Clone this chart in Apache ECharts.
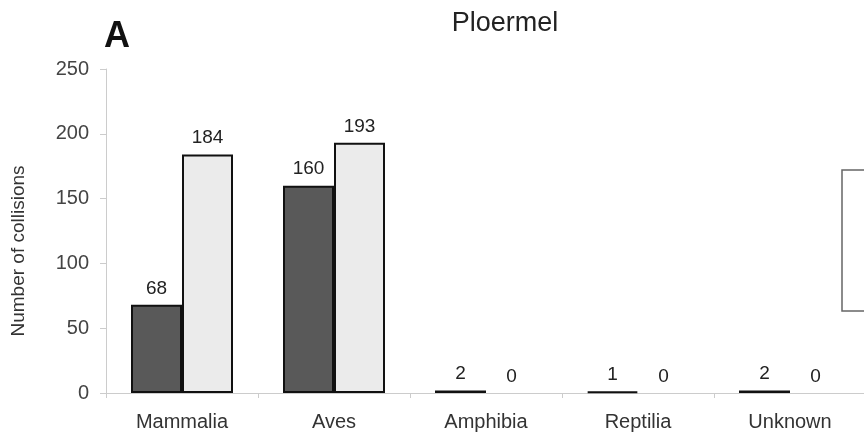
<!DOCTYPE html>
<html><head><meta charset="utf-8">
<script src="https://cdn.jsdelivr.net/npm/echarts@6/dist/echarts.min.js"></script>
<style>html,body{margin:0;padding:0;background:#fff}#c{width:864px;height:437px}</style>
</head><body><div id="c"></div>
<script>
const categories = ['Mammalia', 'Aves', 'Amphibia', 'Reptilia', 'Unknown'];
const seriesDark = [68, 160, 2, 1, 2];
const seriesLight = [184, 193, 0, 0, 0];
const yTicks = { min: 0, max: 250, interval: 50 };
const yAxisTitle = 'Number of collisions';

const font = 'Liberation Sans, Arial, sans-serif';
const chart = echarts.init(document.getElementById('c'), null, { renderer: 'canvas' });
const labelCfg = { show: true, position: 'top', distance: 7, color: '#222', fontSize: 19, fontFamily: font };
const toItems = (arr) => arr.map(v => ({
  value: v,
  itemStyle: v === 0 ? { borderWidth: 0, color: 'rgba(0,0,0,0)' } : {}
}));
chart.setOption({
  animation: false,
  backgroundColor: '#fff',
  title: [
    { text: 'Ploermel', left: 500, top: 5, textAlign: 'center',
      textStyle: { fontSize: 27, fontWeight: 'normal', color: '#222', fontFamily: font } },
    { text: 'A', left: 99, top: 14,
      textStyle: { fontSize: 36, fontWeight: 'bold', color: '#111', fontFamily: font } }
  ],
  grid: { left: 106, right: -2, top: 69, bottom: 44, containLabel: false, outerBoundsMode: 'none' },
  xAxis: {
    type: 'category', data: categories,
    axisLine: { show: true, lineStyle: { color: '#ccc', width: 1 } },
    axisTick: { show: true, alignWithLabel: false, length: 5, lineStyle: { color: '#ccc' } },
    axisLabel: { color: '#333', fontSize: 20, fontFamily: font, margin: 19 }
  },
  yAxis: {
    type: 'value', min: yTicks.min, max: yTicks.max, interval: yTicks.interval,
    axisLine: { show: true, lineStyle: { color: '#ccc', width: 1 } },
    axisTick: { show: true, length: 6, lineStyle: { color: '#ccc' } },
    splitLine: { show: false },
    axisLabel: { color: '#444', fontSize: 20, fontFamily: font, margin: 17 }
  },
  series: [
    { type: 'bar', data: toItems(seriesDark), barWidth: 51, barGap: '0%',
      itemStyle: { color: '#595959', borderColor: '#111', borderWidth: 2 },
      label: labelCfg },
    { type: 'bar', data: toItems(seriesLight), barWidth: 51,
      itemStyle: { color: '#ebebeb', borderColor: '#111', borderWidth: 2 },
      label: labelCfg }
  ],
  graphic: [
    { type: 'text', x: 19, y: 251, rotation: Math.PI / 2,
      style: { text: yAxisTitle, fill: '#333', font: '19px ' + font, align: 'center', verticalAlign: 'middle' } },
    { type: 'rect', shape: { x: 842, y: 170, width: 40, height: 141 },
      style: { fill: '#fff', stroke: '#666', lineWidth: 1.5 }, z: 100 }
  ]
});
</script></body></html>
